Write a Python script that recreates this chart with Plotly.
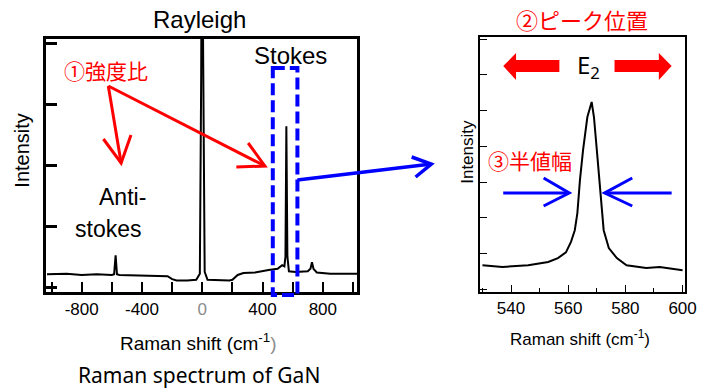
import plotly.graph_objects as go

W, H = 724, 389

# ---- data ----
wide_shift = [-1030, -900, -800, -700, -600, -585, -575, -566, -550, -400, -300, -230,
              -200, -170, -100, -40, -16, -7, -3, 3, 7, 16, 35, 100, 180, 200, 235, 273,
              350, 440, 500, 530, 545, 552, 558, 565, 575, 620, 700, 718, 728, 738,
              760, 850, 1030]
wide_int = [0.21, 0.22, 0.20, 0.21, 0.20, 0.21, 0.52, 0.21, 0.20, 0.19, 0.19, 0.18,
            0.13, 0.11, 0.11, 0.12, 0.22, 3.5, 7.0, 7.0, 3.5, 0.25, 0.12, 0.11, 0.11, 0.12,
            0.20, 0.23, 0.24, 0.28, 0.30, 0.36, 0.34, 0.50, 2.64, 0.50, 0.26, 0.25,
            0.26, 0.30, 0.41, 0.30, 0.24, 0.22, 0.22]

e2_shift = [530, 537, 546, 553, 556.4, 559.2, 561, 562.3, 563.2, 564.1, 565.2, 566.7,
            568.2, 569, 570, 570.9, 572.4, 574.2, 577, 580.4, 587.3, 592, 600]
e2_int = [0.67, 0.62, 0.67, 0.76, 0.87, 1.03, 1.33, 1.65, 2.13, 3.05, 3.9, 4.82,
          5.24, 4.82, 3.9, 3.05, 1.65, 1.15, 0.87, 0.67, 0.59, 0.62, 0.53]

wide_tickvals = [-1000, -800, -600, -400, -200, 0, 200, 400, 600, 800, 1000]
wide_ticktext = ["", "-800", "", "-400", "", "<span style='color:#8c8c8c'>0</span>",
                 "", "400", "", "800", ""]
e2_tickvals = [540, 560, 580, 600]
e2_ticktext = ["540", "560", "580", "600"]

EN = "Liberation Sans, Arial, sans-serif"
JP = "Noto Sans CJK JP"
RED = "#ff0000"
BLUE = "#0000ff"


def px(x):
    return x / W


def py(y):
    return 1 - y / H


fig = go.Figure()
fig.add_trace(go.Scatter(x=wide_shift, y=wide_int, mode="lines",
                         line=dict(color="black", width=2),
                         xaxis="x", yaxis="y", showlegend=False, hoverinfo="skip"))
fig.add_trace(go.Scatter(x=e2_shift, y=e2_int, mode="lines",
                         line=dict(color="black", width=2),
                         xaxis="x2", yaxis="y2", showlegend=False, hoverinfo="skip"))

fig.update_layout(
    width=W, height=H,
    margin=dict(l=0, r=0, t=0, b=0),
    paper_bgcolor="white", plot_bgcolor="white",
    font=dict(family=EN, color="black"),
    xaxis=dict(domain=[px(47), px(363)], range=[-1035, 1030], anchor="y",
               tickvals=wide_tickvals, ticktext=wide_ticktext, ticks="inside",
               ticklen=10, tickwidth=2, tickcolor="black", showline=True,
               linewidth=3, linecolor="black", mirror=True, showgrid=False,
               zeroline=False, tickfont=dict(size=17)),
    yaxis=dict(domain=[py(292), py(39)], range=[-0.08, 4.07], anchor="x",
               tickvals=[0, 1, 2, 3, 4], showticklabels=False, ticks="inside",
               ticklen=11, tickwidth=2.5, tickcolor="black", showline=True,
               linewidth=3, linecolor="black", mirror=True, showgrid=False,
               zeroline=False),
    xaxis2=dict(domain=[px(487), px(696)], range=[529, 601], anchor="y2",
                tickvals=e2_tickvals, ticktext=e2_ticktext, ticks="inside",
                ticklen=7, tickwidth=1.2, tickcolor="black", showline=True,
                linewidth=1.6, linecolor="black", mirror=True, showgrid=False,
                zeroline=False, tickfont=dict(size=17),
                minor=dict(ticks="inside", ticklen=4, tickwidth=1.2,
                           tickcolor="black", dtick=10, tick0=530, showgrid=False)),
    yaxis2=dict(domain=[py(292), py(37)], range=[-0.08, 7.06], anchor="x2",
                tickvals=[0, 1, 2, 3, 4, 5, 6, 7], showticklabels=False,
                ticks="inside", ticklen=8, tickwidth=1.2, tickcolor="black",
                showline=True, linewidth=1.6, linecolor="black", mirror=True,
                showgrid=False, zeroline=False),
)


def text(s, cx, cy, size, color="black", family=EN, angle=0):
    fig.add_annotation(text=s, x=px(cx), y=py(cy), xref="paper", yref="paper",
                       xanchor="center", yanchor="middle", showarrow=False,
                       textangle=angle, font=dict(size=size, color=color, family=family))


text("Rayleigh", 203, 19, 24)
text("Stokes", 295, 56, 24)
text("①強度比", 108, 70, 21, RED, JP)
text("Anti-", 124, 197, 23)
text("stokes", 110, 229, 23)
text("Intensity", 22, 151, 20, angle=-90)
text("Raman shift (cm<sup>-1</sup><span style='color:#8c8c8c'>)</span>", 201, 342, 19)
text("Raman spectrum of GaN", 202, 375, 21, family="Noto Sans")
text("②ピーク位置", 591, 19, 22, RED, JP)
text("E<sub>2</sub>", 598, 66, 24, family="Noto Sans")
text("③半値幅", 538, 160, 21, RED, JP)
text("Intensity", 474, 152, 17, angle=-90)
text("Raman shift (cm<sup>-1</sup>)", 589, 338, 17)


def path(points, color, width, fill=None, closed=False, dash=None):
    d = "M " + " L ".join(f"{px(x):.5f},{py(y):.5f}" for x, y in points)
    if closed:
        d += " Z"
    fig.add_shape(type="path", path=d, xref="paper", yref="paper",
                  line=dict(color=color, width=width, dash=dash),
                  fillcolor=fill if fill else "rgba(0,0,0,0)")


# red arrows (left)
path([(110, 86), (123, 163)], RED, 3)
path([(105, 139), (123, 163), (133, 135)], RED, 3)
path([(110, 86), (269, 166)], RED, 3)
path([(252, 143), (269, 166), (240, 167)], RED, 3)

# blue dashed box
path([(277, 68), (302, 68), (302, 295), (277, 295)], BLUE, 4, closed=True, dash="12px,5px")
# blue arrow to right panel
path([(302, 180), (438, 164)], BLUE, 3.5)
path([(418, 157), (438, 164), (422, 177)], BLUE, 3.5)

# red block arrows (right)
path([(511, 66), (524, 53), (524, 60), (568, 60), (568, 72), (524, 72), (524, 80)],
     RED, 0, fill=RED, closed=True)
path([(682, 66), (669, 53), (669, 60), (624, 60), (624, 72), (669, 72), (669, 80)],
     RED, 0, fill=RED, closed=True)

# blue FWHM arrows
path([(511, 193), (578, 193)], BLUE, 3)
path([(552, 178), (578, 193), (552, 206)], BLUE, 3)
path([(682, 193), (614, 193)], BLUE, 3)
path([(642, 178), (614, 193), (642, 206)], BLUE, 3)

fig.write_html("out.html", config={"displayModeBar": False},
               post_script="document.body.style.margin='0px';document.body.style.overflow='hidden';")
